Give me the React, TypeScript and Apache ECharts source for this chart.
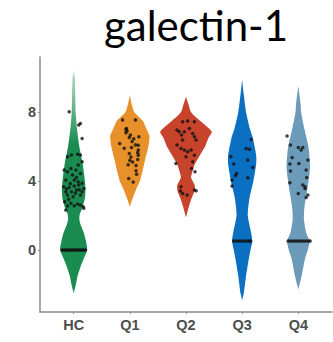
import React, { useEffect, useRef } from "react";
import * as echarts from "echarts";

const title = "galectin-1";
const categories = ["HC", "Q1", "Q2", "Q3", "Q4"];
const colors = ["#1b8c50", "#e8912b", "#c7432c", "#0b6fc2", "#6b9bb8"];
const yTicks = [0, 4, 8];

// violin profiles: [value, half width (category units)]
const violinHC = [
  [10.4, 0], [10, 0.02], [9, 0.028], [8, 0.035], [7, 0.06], [6, 0.1], [5, 0.16],
  [4, 0.2], [3.5, 0.21], [3, 0.2], [2.5, 0.16], [2.1, 0.11], [1.8, 0.1], [1.5, 0.12],
  [1, 0.18], [0.5, 0.22], [0, 0.24], [-0.5, 0.18], [-1, 0.12], [-1.5, 0.07],
  [-2, 0.04], [-2.5, 0],
];
const violinQ1 = [
  [9.0, 0], [8.5, 0.03], [8, 0.08], [7.5, 0.23], [7, 0.3], [6.6, 0.35], [6, 0.33],
  [5.2, 0.27], [4.5, 0.22], [4, 0.18], [3.5, 0.11], [3, 0.05], [2.5, 0],
];
const violinQ2 = [
  [8.9, 0], [8.5, 0.04], [8, 0.09], [7.5, 0.25], [6.86, 0.46], [6.5, 0.4], [6, 0.34],
  [5.5, 0.25], [5, 0.16], [4.5, 0.11], [4.2, 0.09], [3.7, 0.16], [3.3, 0.14],
  [3, 0.1], [2.5, 0.05], [1.9, 0],
];
const violinQ3 = [
  [9.9, 0], [9, 0.03], [8, 0.07], [7, 0.14], [6.5, 0.19], [5.5, 0.25], [5, 0.25],
  [4, 0.2], [3, 0.13], [2, 0.1], [1, 0.16], [0.5, 0.18], [0, 0.15], [-0.5, 0.12],
  [-1.5, 0.07], [-2.5, 0.03], [-2.9, 0],
];
const violinQ4 = [
  [9.5, 0], [8.5, 0.04], [8, 0.05], [7, 0.11], [6, 0.18], [4.8, 0.21], [3.5, 0.16],
  [2.5, 0.11], [1.8, 0.1], [1, 0.14], [0.5, 0.2], [0, 0.17], [-0.5, 0.12],
  [-1.5, 0.06], [-2.3, 0],
];
const violins = [violinHC, violinQ1, violinQ2, violinQ3, violinQ4];

// jittered points: [x offset, value]
const pointsHC = [
  [-0.08, 8.02], [0.09, 7.25], [0.12, 7.34], [0.15, 6.47], [-0.04, 5.51], [0.07, 5.55],
  [0.12, 5.51], [-0.11, 5.41], [0.15, 5.12], [0.08, 4.93], [-0.17, 4.64], [-0.05, 4.73],
  [-0.11, 4.54], [0.04, 4.64], [-0.02, 4.35], [0.12, 4.44], [-0.14, 4.06], [0.01, 4.06],
  [0.08, 3.96], [0.15, 3.87], [-0.18, 3.67], [-0.08, 3.63], [0.01, 3.71], [0.09, 3.77],
  [0.18, 3.57], [-0.14, 3.38], [-0.04, 3.38], [0.05, 3.48], [0.15, 3.38], [-0.11, 3.19],
  [-0.01, 3.09], [0.12, 3.19], [-0.16, 2.8], [-0.05, 2.71], [0.07, 2.67], [0.17, 2.51],
  [-0.11, 2.55], [0.01, 2.57], [0.12, 2.61], [-0.14, 2.32], [0.18, 2.42], [0.03, 3.3],
  [-0.06, 3.85], [0.1, 3.5], [-0.13, 3.55], [0.05, 4.2], [-0.09, 2.95],
  [-0.21, 0], [-0.18, 0], [-0.15, 0], [-0.12, 0], [-0.09, 0], [-0.06, 0], [-0.03, 0],
  [0, 0], [0.03, 0], [0.06, 0], [0.09, 0], [0.12, 0], [0.15, 0], [0.18, 0], [0.21, 0],
];
const pointsQ1 = [
  [-0.13, 7.55], [0.1, 7.55], [-0.06, 7.05], [-0.05, 6.9], [-0.07, 6.8], [0.01, 6.67],
  [-0.01, 6.53], [0.16, 6.57], [-0.18, 6.18], [-0.1, 5.9], [0.03, 5.95], [0.1, 6.1],
  [0.15, 6.08], [-0.01, 5.6], [0.02, 5.4], [0.14, 5.65], [0.15, 5.5], [0.0, 5.2],
  [0.05, 5.1], [0.14, 5.25], [0.11, 4.9], [-0.03, 4.95], [0.11, 4.6], [0.12, 4.4],
  [-0.02, 4.15], [0.06, 3.95], [-0.07, 7.0], [0.15, 5.8], [0.07, 6.45], [0.04, 6.3],
];
const pointsQ2 = [
  [-0.06, 7.44], [0.03, 7.48], [0.15, 7.44], [-0.16, 6.96], [-0.12, 6.86], [-0.03, 6.86],
  [0.06, 7.05], [0.12, 6.76], [-0.08, 6.67], [0.15, 6.57], [0.18, 6.38], [-0.06, 6.38],
  [-0.16, 6.09], [-0.09, 5.89], [-0.03, 5.8], [0.03, 5.7], [0.09, 5.8], [0.0, 5.41],
  [0.15, 5.5], [-0.18, 5.02], [0.12, 5.12], [0.1, 4.73], [0.16, 4.54], [-0.09, 3.67],
  [-0.1, 3.42], [-0.06, 3.28], [0.02, 3.19], [0.15, 3.48], [0.18, 3.44],
];
const pointsQ3 = [
  [0.16, 6.41], [0.07, 5.89], [0.13, 5.84], [-0.2, 5.41], [-0.15, 4.99], [0.1, 5.22],
  [0.19, 4.79], [-0.1, 4.44], [-0.12, 4.31], [0.1, 4.19], [-0.18, 4.06], [-0.18, 3.71],
  [-0.15, 0.52], [-0.11, 0.52], [-0.07, 0.52], [-0.03, 0.52], [0.01, 0.52],
  [0.05, 0.52], [0.09, 0.52], [0.13, 0.52], [0.15, 0.52],
];
const pointsQ4 = [
  [-0.2, 6.61], [-0.14, 6.09], [0.0, 5.95], [0.08, 5.95], [0.05, 5.8], [-0.11, 5.37],
  [0.17, 5.22], [0.01, 5.02], [-0.15, 4.99], [0.14, 4.64], [-0.14, 4.58], [0.15, 4.21],
  [-0.15, 3.9], [0.08, 3.77], [0.12, 3.57], [0.0, 3.28], [0.17, 3.19], [0.14, 3.05],
  [0.12, 3.67],
  [-0.18, 0.52], [-0.14, 0.52], [-0.1, 0.52], [-0.06, 0.52], [-0.02, 0.52],
  [0.02, 0.52], [0.06, 0.52], [0.1, 0.52], [0.14, 0.52], [0.18, 0.52], [0.21, 0.52],
];
const points = [pointsHC, pointsQ1, pointsQ2, pointsQ3, pointsQ4];

export default function App() {
  const ref = useRef<HTMLDivElement>(null);
  useEffect(() => {
    if (!ref.current) return;
    const chart = echarts.init(ref.current, null, { renderer: "svg" });

    const violinSeries = {
      type: "custom",
      z: 2,
      data: categories.map((_, i) => [i + 1]),
      renderItem: (params: any, api: any) => {
        const idx = params.dataIndex;
        const cx = idx + 1;
        const prof = violins[idx];
        const right = prof.map(([v, w]) => api.coord([cx + w, v]));
        const left = prof
          .slice()
          .reverse()
          .map(([v, w]) => api.coord([cx - w, v]));
        const fill =
          idx === 0
            ? new echarts.graphic.LinearGradient(0, 0, 0, 1, [
                { offset: 0, color: "#b5dcc6" },
                { offset: 0.33, color: colors[0] },
                { offset: 1, color: colors[0] },
              ])
            : colors[idx];
        return {
          type: "polygon",
          shape: { points: right.concat(left), smooth: 0.2 },
          style: { fill, stroke: "none" },
        };
      },
    };

    const pointData: number[][] = [];
    points.forEach((arr, i) => {
      arr.forEach(([dx, v]) => pointData.push([i + 1 + dx, v]));
    });

    const labelStyle = {
      color: "#4d4d4d",
      fontFamily: "Arial, Liberation Sans",
      fontWeight: "bold",
      fontSize: 14.5,
    };

    chart.setOption({
      animation: false,
      graphic: [
        {
          type: "text",
          x: 196,
          y: 4,
          style: {
            text: title,
            fontFamily: "Lato",
            fontSize: 42,
            fill: "#000",
            align: "center",
            verticalAlign: "top",
          },
        },
      ],
      grid: { left: 40, right: 1, top: 57, bottom: 30 },
      xAxis: {
        type: "value",
        min: 0.4,
        max: 5.6,
        splitLine: { show: false },
        axisLine: { onZero: false, lineStyle: { color: "#8c8c8c", width: 1.5 } },
        axisTick: {
          customValues: [1, 2, 3, 4, 5],
          length: 2,
          lineStyle: { color: "#8c8c8c" },
        },
        axisLabel: {
          customValues: [1, 2, 3, 4, 5],
          formatter: (v: number) => categories[Math.round(v) - 1],
          margin: 5,
          ...labelStyle,
        },
      },
      yAxis: {
        type: "value",
        min: -3.6,
        max: 11.2,
        splitLine: { show: false },
        axisLine: { show: true, onZero: false, lineStyle: { color: "#8c8c8c", width: 1.5 } },
        axisTick: {
          show: true,
          customValues: yTicks,
          length: 2,
          lineStyle: { color: "#8c8c8c" },
        },
        axisLabel: {
          customValues: yTicks,
          margin: 4,
          ...labelStyle,
        },
      },
      series: [
        violinSeries,
        {
          type: "scatter",
          z: 3,
          data: pointData,
          symbol: "circle",
          symbolSize: 3.5,
          itemStyle: { color: "#111" },
        },
      ],
    });
    return () => chart.dispose();
  }, []);
  return (
    <div
      ref={ref}
      style={{ position: "absolute", left: 0, top: 0, width: 333, height: 342 }}
    />
  );
}
